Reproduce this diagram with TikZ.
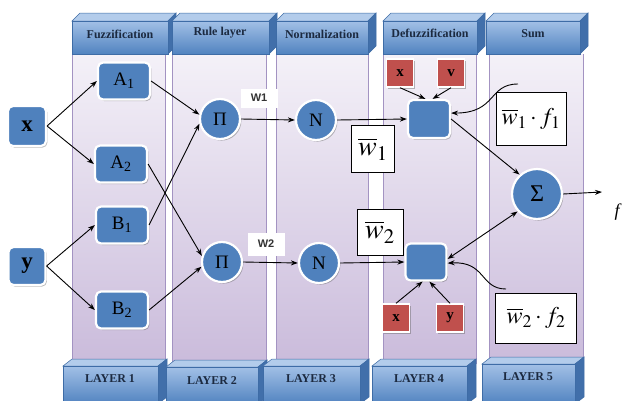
\documentclass[tikz,border=0pt]{standalone}
\usepackage{mathptmx}
\usepackage{fontspec}
\setmainfont{Liberation Serif}
\newfontfamily\lblsans{Liberation Sans}
\usetikzlibrary{arrows.meta,shadows}

\definecolor{nodeblue}{HTML}{4F81BD}
\definecolor{nodered}{HTML}{C0504D}
\definecolor{paneltop}{HTML}{F4F1F8}
\definecolor{panelbot}{HTML}{CABBDB}
\definecolor{panelline}{HTML}{A393C2}
\definecolor{hdrtopc}{HTML}{A2C0E6}
\definecolor{hdrbotc}{HTML}{5183C0}
\definecolor{hdrface}{HTML}{B3CCEB}
\definecolor{hdrside}{HTML}{416FAA}
\definecolor{hdrline}{HTML}{3E6CA6}
\definecolor{hdrtext}{HTML}{1C2A40}

% 3-D block: left, top, right, bottom of the front face, depth dx, depth dy
\newcommand{\layerblock}[6]{%
  \fill[hdrface, draw=hdrline, line width=0.5pt]
    (#1,#2) -- (#1+#5,#2-#6) -- (#3+#5,#2-#6) -- (#3,#2) -- cycle;
  \fill[hdrside, draw=hdrline, line width=0.5pt]
    (#3,#2) -- (#3+#5,#2-#6) -- (#3+#5,#4-#6) -- (#3,#4) -- cycle;
  \shade[top color=hdrtopc, bottom color=hdrbotc, draw=hdrline, line width=0.5pt]
    (#1,#2) rectangle (#3,#4);
}

\begin{document}
\begin{tikzpicture}[x=1pt,y=-1pt,
  shadowed/.style={drop shadow={shadow xshift=1.4pt, shadow yshift=-1.6pt, opacity=0.45, fill=black!60}},
  bluebox/.style={rectangle, rounded corners=5pt, draw=white, line width=2.2pt,
    fill=nodeblue, shadowed, inner sep=0pt},
  bluecirc/.style={circle, draw=white, line width=2.2pt, fill=nodeblue, shadowed,
    minimum size=40pt, inner sep=0pt, font=\fontsize{19}{19}\selectfont},
  redbox/.style={rectangle, draw=white, line width=1.4pt, fill=nodered, shadowed,
    minimum width=27pt, minimum height=28pt, inner sep=0pt,
    font=\fontsize{15}{15}\selectfont\bfseries},
  mathbox/.style={rectangle, draw=black, line width=0.7pt, fill=white, inner sep=0pt},
  hdrlabel/.style={font=\fontsize{12}{14}\selectfont\bfseries, text=hdrtext},
  wlabel/.style={fill=white, inner sep=0pt, font=\lblsans\fontsize{11}{12}\selectfont\bfseries, text=black!80},
  arr/.style={-{Stealth[length=7pt,width=5pt]}, line width=0.9pt},
  dblarr/.style={{Stealth[length=7pt,width=5pt]}-{Stealth[length=7pt,width=5pt]}, line width=0.9pt},
  ]
\useasboundingbox (0,0) rectangle (622,400);
\clip (0,0) rectangle (622,400);

% layer columns
\foreach \l/\r in {72/165,172/266,276/368,383/476,489/583}{
  \shade[top color=paneltop, bottom color=panelbot] (\l,54) rectangle (\r,364);
  \draw[panelline, line width=0.9pt] (\l,54) -- (\l,364) (\r,54) -- (\r,364);
}

% top title blocks
\layerblock{72}{21}{168}{54}{8}{8}
\layerblock{172}{21}{269}{54}{8}{8}
\layerblock{276}{21}{368}{54}{8}{8}
\layerblock{383}{21}{477}{54}{8}{8}
\layerblock{486}{21}{580}{54}{8}{8}
\node[hdrlabel] (t1) at (120,34) {Fuzzification};
\node[hdrlabel] (t2) at (220,33) {Rule layer};
\node[hdrlabel] (t3) at (322,34) {Normalization};
\node[hdrlabel] (t4) at (430,33) {Defuzzification};
\node[hdrlabel] (t5) at (533,34) {Sum};

% bottom layer blocks
\layerblock{63}{366}{158}{404}{9}{7}
\layerblock{166}{367}{258}{404}{9}{7}
\layerblock{263}{366}{360}{404}{9}{7}
\layerblock{372}{366}{467}{404}{9}{7}
\layerblock{482}{364}{575}{404}{9}{7}
\node[hdrlabel] (b1) at (110,379) {LAYER 1};
\node[hdrlabel] (b2) at (212,381) {LAYER 2};
\node[hdrlabel] (b3) at (311,379) {LAYER 3};
\node[hdrlabel] (b4) at (419,379) {LAYER 4};
\node[hdrlabel] (b5) at (528,377) {LAYER 5};

% inputs
\node[bluebox, minimum width=38pt, minimum height=40pt, font=\fontsize{23}{23}\selectfont\bfseries] (x) at (27,126) {x};
\node[bluebox, minimum width=37pt, minimum height=38pt, font=\fontsize{23}{23}\selectfont\bfseries] (y) at (27,266) {y};

% membership functions
\tikzset{mf/.style={bluebox, minimum width=52pt, minimum height=37pt, font=\fontsize{19}{19}\selectfont}}
\node[mf] (A1) at (124,81) {A\textsubscript{1}};
\node[mf] (A2) at (121,164) {A\textsubscript{2}};
\node[mf] (B1) at (122,225) {B\textsubscript{1}};
\node[mf] (B2) at (122,310) {B\textsubscript{2}};

% rule and normalisation nodes
\node[bluecirc] (P1) at (220,119) {Π};
\node[bluecirc] (P2) at (222,262) {Π};
\node[bluecirc] (N1) at (316,120) {N};
\node[bluecirc] (N2) at (319,263) {N};

% defuzzification nodes and their inputs
\node[bluebox, minimum width=42pt, minimum height=38pt] (D1) at (429,119) {};
\node[bluebox, minimum width=41pt, minimum height=37pt] (D2) at (426,262) {};
\node[redbox] (rx1) at (400,73) {x};
\node[redbox] (rv1) at (451,73) {v};
\node[redbox] (rx2) at (396,318) {x};
\node[redbox] (ry2) at (450,318) {y};

% summation
\node[bluecirc, minimum size=50pt, font=\fontsize{24}{24}\selectfont] (S) at (537,194) {Σ};
\coordinate (out) at (602,192);
\node[font=\fontsize{18}{18}\selectfont\itshape] (f) at (617,212) {f};

% weight labels
\node[wlabel, minimum width=37pt, minimum height=19pt] (W1) at (259,98) {W1};
\node[wlabel, minimum width=37pt, minimum height=23pt] (W2) at (266,244) {W2};

% formula boxes
\node[mathbox, minimum width=43pt, minimum height=47pt, font=\fontsize{28}{28}\selectfont] (nw1) at (373,149) {$\overline{w}_1$};
\node[mathbox, minimum width=46pt, minimum height=46pt, font=\fontsize{28}{28}\selectfont] (nw2) at (380,232) {$\overline{w}_2$};
\node[mathbox, minimum width=70pt, minimum height=53pt, font=\fontsize{24}{24}\selectfont] (wf1) at (531,119) {$\overline{w}_1\cdot f_1$};
\node[mathbox, minimum width=81pt, minimum height=50pt, font=\fontsize{24}{24}\selectfont] (wf2) at (536,318) {$\overline{w}_2\cdot f_2$};

\coordinate (c1) at (518,84);
\coordinate (c2) at (506,289);

% connections
\draw[arr] (x.east) -- (A1.west);
\draw[arr] (x.east) -- (A2.west);
\draw[arr] (y.east) -- (B1.west);
\draw[arr] (y.east) -- (B2.west);
\draw[arr] (A1.east) -- (P1.168);
\draw[arr] (B1.east) -- (P1.193);
\draw[arr] (A2.east) -- (P2.163);
\draw[arr] (B2.east) -- (P2.193);
\draw[arr] (P1.east) -- (N1.west);
\draw[arr] (P2.east) -- (N2.west);
\draw[arr] (N1.east) -- (D1.west);
\draw[arr] (N2.east) -- (D2.west);
\draw[arr] (rx1.south) -- (D1.100);
\draw[arr] (rv1.south) -- (D1.80);
\draw[arr] (rx2.north) -- (D2.-100);
\draw[arr] (ry2.north) -- (D2.-80);
\draw[arr] (D1.east) -- (S.132);
\draw[dblarr] (D2.8) -- (S.222);
\draw[arr] (c1) .. controls (488,84) and (497,113) .. (D1.15);
\draw[arr] (c2) .. controls (480,289) and (486,261) .. (D2.-3);
\draw[arr] (S.east) -- (out);
\end{tikzpicture}
\end{document}
